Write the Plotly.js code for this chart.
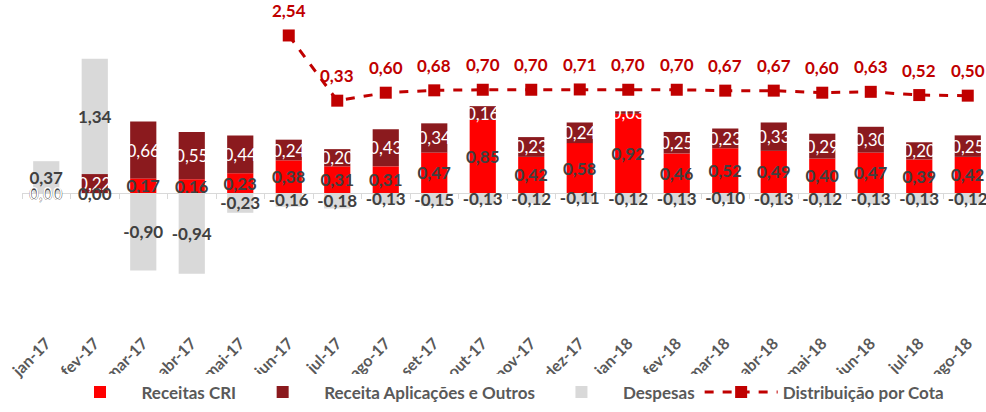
<!DOCTYPE html>
<html>
<head>
<meta charset="utf-8">
<script src="https://cdn.plot.ly/plotly-3.0.1.min.js"></script>
<style>html,body{margin:0;padding:0;background:#fff;}#chart{width:986px;height:412px;}</style>
</head>
<body>
<div id="chart"></div>
<script>
const categories = ['jan-17','fev-17','mar-17','abr-17','mai-17','jun-17','jul-17','ago-17','set-17','out-17','nov-17','dez-17','jan-18','fev-18','mar-18','abr-18','mai-18','jun-18','jul-18','ago-18'];
const receitasCRI = [0.00,0.00,0.17,0.16,0.23,0.38,0.31,0.31,0.47,0.85,0.42,0.58,0.92,0.46,0.52,0.49,0.40,0.47,0.39,0.42];
const receitaAplicacoes = [0.00,0.22,0.66,0.55,0.44,0.24,0.20,0.43,0.34,0.16,0.23,0.24,0.03,0.25,0.23,0.33,0.29,0.30,0.20,0.25];
const despesas = [0.37,1.34,-0.90,-0.94,-0.23,-0.16,-0.18,-0.13,-0.15,-0.13,-0.12,-0.11,-0.12,-0.13,-0.10,-0.13,-0.12,-0.13,-0.13,-0.12];
const distribuicao = [null,null,null,null,null,2.54,0.33,0.60,0.68,0.70,0.70,0.71,0.70,0.70,0.67,0.67,0.60,0.63,0.52,0.50];

const fmt = v => (v === null ? '' : v.toFixed(2).replace('.', ','));
const FONT = 'Lato, Calibri, "Open Sans", sans-serif';
const xr = [-0.5, 19.376];

const traces = [
  {type:'bar', name:'Receitas CRI', x:categories, y:receitasCRI,
   marker:{color:'#FF0000'}, text:receitasCRI.map(fmt), textposition:'inside',
   insidetextanchor:'middle', constraintext:'none', textangle:0,
   textfont:{family:FONT, size:17, color:'#404040', weight:'bold'}},
  {type:'bar', name:'Receita Aplicações e Outros', x:categories, y:receitaAplicacoes,
   marker:{color:'#8B1A1E'}, text:receitaAplicacoes.map(fmt), textposition:'inside',
   insidetextanchor:'middle', constraintext:'none', textangle:0,
   textfont:{family:FONT, size:17, color:'#FFFFFF'}},
  {type:'bar', name:'Despesas', x:categories, y:despesas,
   marker:{color:'#D9D9D9'}, text:despesas.map(fmt), textposition:'inside',
   insidetextanchor:'middle', constraintext:'none', textangle:0,
   textfont:{family:FONT, size:17, color:'#404040', weight:'bold'}},
  {type:'scatter', mode:'lines+markers', name:'Distribuição por Cota',
   x:categories, y:distribuicao, xaxis:'x2', yaxis:'y2',
   line:{color:'#C00000', width:3, dash:'dash'},
   marker:{symbol:'square', size:12, color:'#C00000'},
   connectgaps:false}
];

const annotations = [];
categories.forEach((c, i) => {
  // labels for zero-height segments (plotly hides inside text for blank bars)
  if (receitasCRI[i] === 0) annotations.push({x:c, y:0, xref:'x', yref:'y', text:fmt(receitasCRI[i]), showarrow:false,
    font:{family:FONT, size:17, color:'#404040', weight:'bold'}});
  if (receitaAplicacoes[i] === 0) annotations.push({x:c, y:0, xref:'x', yref:'y', text:fmt(receitaAplicacoes[i]), showarrow:false,
    font:{family:FONT, size:17, color:'#FFFFFF'}});
  // line data labels
  if (distribuicao[i] !== null) annotations.push({x:c, y:distribuicao[i], xref:'x2', yref:'y2', text:fmt(distribuicao[i]),
    showarrow:false, yshift:25, font:{family:FONT, size:17, color:'#C00000', weight:'bold'}});
});

const layout = {
  width:986, height:412,
  margin:{l:22, r:0, t:10, b:82},
  paper_bgcolor:'#FFFFFF', plot_bgcolor:'#FFFFFF',
  barmode:'relative', bargap:0.46,
  showlegend:true,
  legend:{orientation:'h', x:0.5, xanchor:'center', y:-0.195, yanchor:'middle',
    font:{family:FONT, size:17, color:'#595959', weight:'bold'}, itemwidth:73, traceorder:'normal'},
  xaxis:{type:'category', range:xr, tickangle:-45, showline:false, showgrid:false, zeroline:false,
    ticks:'', tickfont:{family:FONT, size:16, color:'#595959', weight:'bold'}, fixedrange:true},
  xaxis2:{type:'category', overlaying:'x', range:xr, anchor:'free', position:(330-193)/320,
    showline:true, linecolor:'#D9D9D9', linewidth:1, ticks:'outside', tickson:'boundaries',
    ticklen:5, tickcolor:'#D9D9D9', showticklabels:false, showgrid:false, zeroline:false, layer:'below traces'},
  yaxis:{range:[-137/86, 183/86], visible:false, showgrid:false, zeroline:false},
  yaxis2:{range:[-(330-110.4)/29.5, (110.4-10)/29.5], overlaying:'y', anchor:'x', visible:false, showgrid:false, zeroline:false},
  annotations:annotations,
  font:{family:FONT}
};

Plotly.newPlot('chart', traces, layout, {staticPlot:true, displayModeBar:false});
</script>
</body>
</html>
